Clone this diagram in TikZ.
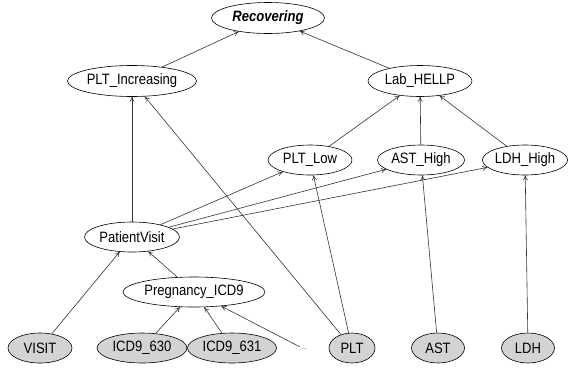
\documentclass[tikz,border=0pt]{standalone}
\usepackage{fontspec}
\setmainfont[FakeStretch=0.87]{Liberation Sans}
\usetikzlibrary{shapes.geometric,arrows.meta}
\definecolor{edgecol}{HTML}{333333}
\definecolor{obsfill}{HTML}{D3D3D3}
\begin{document}
\begin{tikzpicture}[x=1pt,y=-1pt,
  var/.style={ellipse,draw=black,line width=0.6pt,inner sep=0pt,minimum height=30pt,fill=white,
    font=\fontsize{15}{18}\selectfont},
  obs/.style={var,fill=obsfill},
  dep/.style={draw=edgecol,line width=0.6pt,-{To[length=5pt,width=5pt]}}]
\useasboundingbox (0,0) rectangle (569,370);
\node[var,minimum width=113pt,minimum height=31pt,font=\fontsize{15}{18}\selectfont\bfseries\itshape] (rec) at (268,18) {Recovering};
\node[var,minimum width=129pt,minimum height=31pt] (pltinc) at (132,81) {PLT\_Increasing};
\node[var,minimum width=104pt,minimum height=31pt] (lab) at (420,81) {Lab\_HELLP};
\node[var,minimum width=84pt] (pltlow) at (310,160) {PLT\_Low};
\node[var,minimum width=87pt] (asthigh) at (421,160) {AST\_High};
\node[var,minimum width=85pt] (ldhhigh) at (525,160) {LDH\_High};
\node[var,minimum width=95pt] (pv) at (132,237) {PatientVisit};
\node[var,minimum width=142pt] (preg) at (194,292) {Pregnancy\_ICD9};
\node[obs,minimum width=64pt] (visit) at (40,348) {VISIT};
\node[obs,minimum width=90pt] (icda) at (142,348) {ICD9\_630};
\node[obs,minimum width=89pt] (icdb) at (232,348) {ICD9\_631};
\node[inner sep=2pt,font=\fontsize{6}{7}\selectfont] (dots) at (304,349) {...};
\node[obs,minimum width=46pt] (plt) at (352,348) {PLT};
\node[obs,minimum width=53pt] (ast) at (438,348) {AST};
\node[obs,minimum width=53pt] (ldh) at (528,348) {LDH};
\draw[dep] (pltinc) -- (rec);
\draw[dep] (lab) -- (rec);
\draw[dep] (pv) -- (pltinc);
\draw[dep] (plt) -- (pltinc);
\draw[dep] (pltlow) -- (lab);
\draw[dep] (asthigh) -- (lab);
\draw[dep] (ldhhigh) -- (lab);
\draw[dep] (pv) -- (pltlow);
\draw[dep] (pv) -- (asthigh);
\draw[dep] (pv) -- (ldhhigh);
\draw[dep] (plt) -- (pltlow);
\draw[dep] (ast) -- (asthigh);
\draw[dep] (ldh) -- (ldhhigh);
\draw[dep] (preg) -- (pv);
\draw[dep] (visit) -- (pv);
\draw[dep] (icda) -- (preg);
\draw[dep] (icdb) -- (preg);
\draw[dep] (dots) -- (preg);
\end{tikzpicture}
\end{document}
